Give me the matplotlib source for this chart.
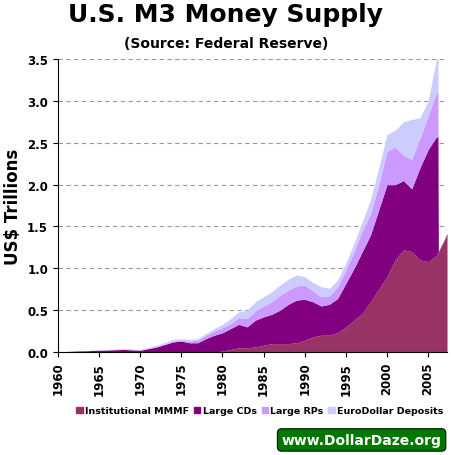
import matplotlib
matplotlib.use("Agg")
import matplotlib.pyplot as plt
from matplotlib.patches import Patch

years = [1960,1962,1965,1968,1970,1972,1974,1975,1976,1977,1978,1979,1980,1981,1982,1983,1984,1985,1986,1987,1988,1989,1990,1991,1992,1993,1994,1995,1996,1997,1998,1999,2000,2001,2002,2003,2004,2005,2006,2006.2,2006.25,2007,2007.3]
mmmf_top = [0,0,0,0,0,0,0,0,0,0,0,0,0.01,0.03,0.05,0.05,0.06,0.08,0.1,0.1,0.1,0.11,0.14,0.18,0.2,0.2,0.23,0.3,0.38,0.46,0.6,0.75,0.9,1.1,1.22,1.2,1.1,1.08,1.15,1.2,1.2,1.35,1.42]
cds_top = [0,0.01,0.02,0.03,0.02,0.06,0.12,0.13,0.11,0.11,0.16,0.2,0.23,0.28,0.33,0.3,0.38,0.42,0.45,0.5,0.57,0.62,0.63,0.6,0.55,0.57,0.64,0.82,1.0,1.2,1.4,1.7,2.0,2.0,2.05,1.95,2.2,2.42,2.57,2.57,1.2,1.35,1.42]
rps_top = [0,0.01,0.02,0.035,0.025,0.065,0.13,0.14,0.13,0.14,0.2,0.25,0.29,0.34,0.41,0.4,0.49,0.55,0.6,0.68,0.74,0.79,0.8,0.73,0.66,0.67,0.78,0.98,1.2,1.45,1.65,2.0,2.4,2.45,2.35,2.3,2.55,2.82,3.1,3.1,1.2,1.35,1.42]
euro_top = [0,0.01,0.025,0.04,0.03,0.08,0.15,0.16,0.15,0.16,0.22,0.28,0.33,0.4,0.48,0.5,0.6,0.66,0.72,0.8,0.87,0.92,0.9,0.83,0.78,0.76,0.86,1.06,1.3,1.56,1.82,2.2,2.6,2.65,2.75,2.78,2.8,3.0,3.5,3.5,1.2,1.35,1.42]
labels = ["Institutional MMMF", "Large CDs", "Large RPs", "EuroDollar Deposits"]
colors = ["#993366", "#800080", "#CC99FF", "#CCCCFF"]

fig = plt.figure(figsize=(4.52, 4.56), dpi=100)
ax = fig.add_axes([0.128, 0.226, 0.861, 0.642])
layers = [mmmf_top, cds_top, rps_top, euro_top]
base = [0]*len(years)
for top, c in zip(layers, colors):
    ax.fill_between(years, base, top, color=c, lw=0)
    base = top
ax.set_xlim(1960, 2007.3)
ax.set_ylim(0, 3.5)
ax.set_yticks([0,0.5,1,1.5,2,2.5,3,3.5])
ax.set_yticklabels([f"{v:.1f}" for v in [0,0.5,1,1.5,2,2.5,3,3.5]], fontweight="bold", fontsize=8.5)
ax.set_xticks(range(1960, 2006, 5))
ax.set_xticklabels([str(y) for y in range(1960, 2006, 5)], rotation=90, fontweight="bold", fontsize=8.5)
ax.grid(axis="y", ls=(0,(4,3)), color="#999999", lw=0.8)
ax.set_axisbelow(True)
for s in ["top","right"]:
    ax.spines[s].set_visible(False)
ax.set_ylabel("US$ Trillions", fontsize=12, fontweight="bold")
fig.text(0.5, 0.967, "U.S. M3 Money Supply", ha="center", va="center", fontsize=18, fontweight="bold")
fig.text(0.5, 0.903, "(Source: Federal Reserve)", ha="center", va="center", fontsize=10, fontweight="bold")
handles = [Patch(color=c, label=l) for c, l in zip(colors, labels)]
fig.legend(handles=handles, loc="center", bbox_to_anchor=(0.575, 0.097), ncol=4, frameon=False,
           prop={"weight":"bold","size":6.8}, handlelength=0.7, handleheight=0.7, handletextpad=0.25, columnspacing=0.5)
fig.text(0.80, 0.033, "www.DollarDaze.org", ha="center", va="center", fontsize=10, color="white", fontweight="bold",
         bbox=dict(boxstyle="round,pad=0.3", fc="#007700", ec="#003300", lw=1))
fig.savefig("out.png", dpi=100)
